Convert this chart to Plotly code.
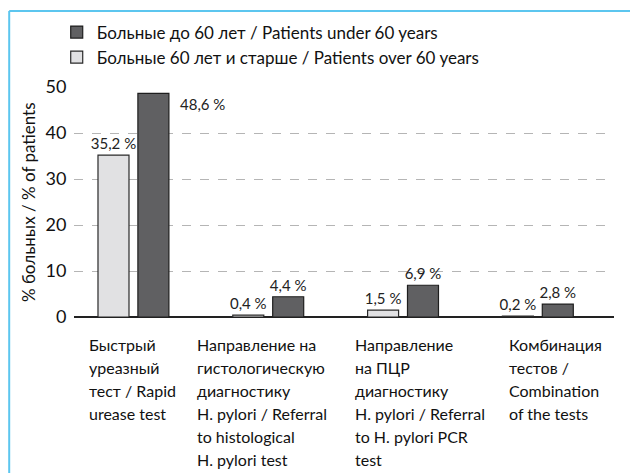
import plotly.graph_objects as go

FONT = "Lato, 'Noto Sans', sans-serif"

# data
categories = [0, 1, 2, 3]
category_lines = [
    ["Быстрый", "уреазный", "тест / Rapid", "urease test"],
    ["Направление на", "гистологическую", "диагностику", "H. pylori / Referral",
     "to histological", "H. pylori test"],
    ["Направление", "на ПЦР", "диагностику", "H. pylori / Referral",
     "to H. pylori PCR", "test"],
    ["Комбинация", "тестов /", "Combination", "of the tests"],
]
over60 = [35.2, 0.4, 1.5, 0.2]
under60 = [48.6, 4.4, 6.9, 2.8]
name_under = "Больные до 60 лет / Patients under 60 years"
name_over = "Больные 60 лет и старше / Patients over 60 years"
y_title = "% больных / % of patients"
y_ticks = [0, 10, 20, 30, 40, 50]


def fmt(v):
    return f"{v:.1f}".replace(".", ",") + " %"


fig = go.Figure()
fig.add_trace(go.Bar(
    x=categories, y=over60, name=name_over,
    width=0.23, offset=-0.263,
    marker=dict(color="#e1e1e3", line=dict(color="#2a2a2a", width=1.2)),
    text=[fmt(v) for v in over60], textposition="outside", constraintext="none",
    textfont=dict(size=15, color="#222"), cliponaxis=False,
))
fig.add_trace(go.Bar(
    x=categories, y=under60, name=name_under,
    width=0.23, offset=0.033,
    marker=dict(color="#606062", line=dict(color="#1e1e1e", width=1.2)),
    text=[""] + [fmt(v) for v in under60[1:]], textposition="outside",
    constraintext="none",
    textfont=dict(size=15, color="#222"), cliponaxis=False,
))

# first dark label sits to the right of its bar
fig.add_annotation(x=categories[0] + 0.33, y=under60[0], text=fmt(under60[0]),
                   xanchor="left", yanchor="top", showarrow=False,
                   font=dict(size=15, color="#222"))

# y title as a rotated note so it sits where the reference has it
fig.add_annotation(x=-0.085, xref="paper", y=0.5, yref="paper", text=y_title,
                   xanchor="center", yanchor="middle",
                   textangle=-90, showarrow=False, font=dict(size=17, color="#111"))

# category labels, one line per annotation to get the looser leading
label_dx = [-0.345, -0.544, -0.37, -0.23]
for c, lines, dx in zip(categories, category_lines, label_dx):
    for i, line in enumerate(lines):
        fig.add_annotation(x=c + dx, xref="x", y=0, yref="paper",
                           text=line, showarrow=False,
                           xanchor="left", yanchor="middle",
                           yshift=-(27 + 23 * i),
                           font=dict(size=16, color="#111"))

# light blue frame
frame = "#5cc6ef"
fig.add_shape(type="line", xref="paper", yref="paper",
              x0=-0.12, x1=1.05, y0=1.33, y1=1.33,
              line=dict(color=frame, width=2))
fig.add_shape(type="line", xref="paper", yref="paper",
              x0=-0.12, x1=-0.12, y0=1.33, y1=-0.7,
              line=dict(color=frame, width=2))

fig.update_layout(
    width=630, height=473,
    margin=dict(l=74, r=16, t=87, b=156, autoexpand=False),
    plot_bgcolor="white", paper_bgcolor="white",
    font=dict(family=FONT, size=16, color="#111"),
    showlegend=True,
    legend=dict(x=-0.032, y=1.315, xanchor="left", yanchor="top",
                traceorder="reversed", font=dict(size=17),
                bgcolor="rgba(0,0,0,0)", tracegroupgap=0),
    xaxis=dict(range=[-0.441, 3.565], showticklabels=False, showgrid=False,
               zeroline=False, showline=False, fixedrange=True),
    yaxis=dict(range=[0, 50], tickvals=y_ticks, showgrid=True,
               gridcolor="#b5b5b5", griddash="dash", gridwidth=1,
               zeroline=True, zerolinecolor="#222", zerolinewidth=2,
               ticks="outside", ticklen=3, tickcolor="rgba(0,0,0,0)",
               tickfont=dict(size=18), automargin=False),
    bargap=0.4,
)

fig.write_html("out.html", config={"displayModeBar": False},
               post_script="document.body.style.margin='0px';")
